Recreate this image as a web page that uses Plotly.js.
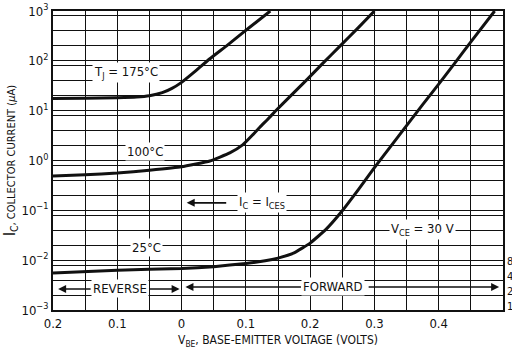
<!DOCTYPE html>
<html>
<head>
<meta charset="utf-8">
<script src="https://cdn.plot.ly/plotly-3.0.1.min.js"></script>
<style>html,body{margin:0;padding:0;background:#fff}#chart{width:512px;height:357px}</style>
</head>
<body>
<div id="chart"></div>
<script>
// Data (V_BE in volts; negative = reverse bias; I_C in microamps)
const v175 = [-0.2, -0.15, -0.1, -0.07, -0.05, -0.03, -0.015, 0, 0.02, 0.044, 0.07, 0.095, 0.115, 0.138];
const i175 = [17.5, 17.8, 18.2, 18.8, 20, 23, 28, 37, 60, 110, 200, 365, 580, 1000];

const v100 = [-0.2, -0.15, -0.1, -0.05, 0, 0.044, 0.075, 0.095, 0.11, 0.122, 0.133, 0.145, 0.17, 0.195, 0.22, 0.246, 0.275, 0.30];
const i100 = [0.49, 0.52, 0.56, 0.64, 0.75, 0.98, 1.42, 2.06, 3.2, 4.7, 6.5, 9.5, 20, 42, 90, 195, 465, 1000];

const v25 = [-0.2, -0.1, 0, 0.05, 0.1, 0.13, 0.15, 0.175, 0.2, 0.225, 0.25, 0.275, 0.3, 0.325, 0.35, 0.375, 0.4, 0.425, 0.45, 0.487];
const i25 = [0.0055, 0.0063, 0.0068, 0.0074, 0.0086, 0.0097, 0.011, 0.014, 0.022, 0.042, 0.098, 0.26, 0.72, 1.9, 5.0, 13.2, 34, 90, 240, 1000];

const xTickVals = [-0.2, -0.15, -0.1, -0.05, 0, 0.05, 0.1, 0.15, 0.2, 0.25, 0.3, 0.35, 0.4, 0.45, 0.5];
const xTickText = ["0.2", "", "0.1", "", "0", "", "0.1", "", "0.2", "", "0.3", "", "0.4", "", "0.5"];

const decades = [-3, -2, -1, 0, 1, 2, 3];
const decadeLabels = ["10<sup>−3</sup>", "10<sup>−2</sup>", "10<sup>−1</sup>", "10<sup>0</sup>", "10<sup>1</sup>", "10<sup>2</sup>", "10<sup>3</sup>"];
const gridMultipliers = [1, 2, 4, 8];
const rightLabels = ["8", "4", "2", "1"];
const rightValues = [0.008, 0.004, 0.002, 0.001];

const yTickVals = [];
const yTickText = [];
decades.forEach((d, k) => {
  gridMultipliers.forEach(m => {
    const v = m * Math.pow(10, d);
    if (v <= 1000 + 1e-9) {
      yTickVals.push(v);
      yTickText.push(m === 1 ? decadeLabels[k] : "");
    }
  });
});

const FONT = '"DejaVu Sans Condensed", "Liberation Sans Narrow", "Arial Narrow", Arial, sans-serif';
const INK = '#111';

const lineStyle = {color: INK, width: 3, shape: 'spline', smoothing: 0.35};
const traces = [
  {x: v175, y: i175, mode: 'lines', line: lineStyle, hoverinfo: 'skip'},
  {x: v100, y: i100, mode: 'lines', line: lineStyle, hoverinfo: 'skip'},
  {x: v25, y: i25, mode: 'lines', line: lineStyle, hoverinfo: 'skip'}
];

function label(text, x, ylog, extra) {
  return Object.assign({
    text: text, x: x, y: ylog, xref: 'x', yref: 'y', showarrow: false,
    bgcolor: '#fff', borderpad: 1, font: {family: FONT, size: 13, color: INK}
  }, extra || {});
}
function arrow(x, ylog, axPix) {
  return {
    text: '', x: x, y: ylog, xref: 'x', yref: 'y', showarrow: true,
    ax: axPix, ay: 0, axref: 'pixel', ayref: 'pixel',
    arrowhead: 2, arrowsize: 1, arrowwidth: 1.6, arrowcolor: INK, standoff: 0
  };
}

const annotations = [
  label('T<sub>J</sub> = 175°C', -0.086, 1.76),
  label('100°C', -0.057, 0.19),
  label('25°C', -0.054, -1.755),
  label('I<sub>C</sub> = I<sub>CES</sub>', 0.125, -0.85),
  label('V<sub>CE</sub> = 30 V', 0.375, -1.394),
  label('REVERSE', -0.096, -2.578),
  label('FORWARD', 0.235, -2.538),
  arrow(0.008, -0.85, 41),
  arrow(-0.192, -2.578, 34),
  arrow(-0.003, -2.578, -32),
  arrow(0.006, -2.538, 117),
  arrow(0.494, -2.538, -132)
];
rightLabels.forEach((t, k) => {
  annotations.push({
    text: t, xref: 'paper', x: 1, xanchor: 'left', xshift: 2,
    yref: 'y', y: Math.log10(rightValues[k]), yanchor: 'middle', yshift: 4,
    showarrow: false, font: {family: FONT, size: 11, color: INK}
  });
});

const layout = {
  width: 512, height: 357,
  margin: {l: 53, r: 9, t: 11, b: 47},
  paper_bgcolor: '#fff', plot_bgcolor: '#fff',
  showlegend: false,
  font: {family: FONT, color: INK},
  xaxis: {
    range: [-0.2, 0.5], tickmode: 'array', tickvals: xTickVals, ticktext: xTickText,
    showgrid: true, gridcolor: INK, gridwidth: 1, zeroline: false,
    showline: true, linecolor: INK, linewidth: 2, mirror: true, ticks: '',
    tickfont: {family: FONT, size: 13, color: INK},
    title: {text: 'V<sub>BE</sub>, BASE-EMITTER VOLTAGE (VOLTS)', font: {family: FONT, size: 12, color: INK}, standoff: 6}
  },
  yaxis: {
    type: 'log', range: [-3, 3], tickmode: 'array', tickvals: yTickVals, ticktext: yTickText,
    showgrid: true, gridcolor: INK, gridwidth: 1, zeroline: false,
    showline: true, linecolor: INK, linewidth: 2, mirror: true, ticks: '',
    tickfont: {family: FONT, size: 13, color: INK},
    title: {text: '<span style="font-size:15px">I<sub>C</sub></span>, COLLECTOR CURRENT (<i>μ</i>A)', font: {family: FONT, size: 11, color: INK}, standoff: 4}
  },
  annotations: annotations
};

Plotly.newPlot('chart', traces, layout, {staticPlot: true, displayModeBar: false});
</script>
</body>
</html>
